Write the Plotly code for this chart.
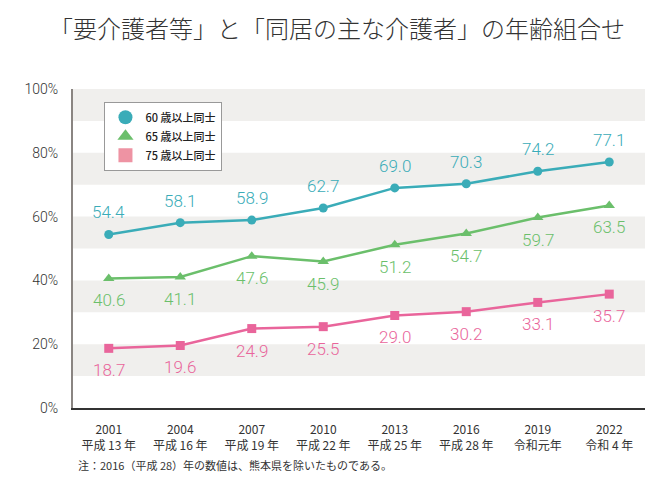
import plotly.graph_objects as go

years = ["2001", "2004", "2007", "2010", "2013", "2016", "2019", "2022"]
eras = ["平成 13 年", "平成 16 年", "平成 19 年", "平成 22 年", "平成 25 年", "平成 28 年", "令和元年", "令和 4 年"]
s60 = [54.4, 58.1, 58.9, 62.7, 69.0, 70.3, 74.2, 77.1]
s65 = [40.6, 41.1, 47.6, 45.9, 51.2, 54.7, 59.7, 63.5]
s75 = [18.7, 19.6, 24.9, 25.5, 29.0, 30.2, 33.1, 35.7]
names = ["60 歳以上同士", "65 歳以上同士", "75 歳以上同士"]
yticks = [0, 20, 40, 60, 80, 100]

TEAL = "#3aacb8"
GREEN = "#6bbf6b"
PINK = "#e9659b"
PINK_LEG = "#ee93a3"

JP = "Noto Sans CJK JP"
NUM = "Roboto"

x = list(range(len(years)))
ticktext = [f"{y}<br>{e}" for y, e in zip(years, eras)]

fig = go.Figure()
annotations = []

series = [
    (s60, TEAL, "circle", 9, 22),
    (s65, GREEN, "triangle-up", 10, -22),
    (s75, PINK, "square", 9, -22),
]
for vals, col, sym, sz, shift in series:
    fig.add_trace(go.Scatter(
        x=x, y=vals, mode="lines+markers",
        line=dict(color=col, width=2.5),
        marker=dict(color=col, symbol=sym, size=sz),
        showlegend=False, cliponaxis=False,
    ))
    for xi, v in zip(x, vals):
        annotations.append(dict(x=xi, y=v, xref="x", yref="y", text=f"{v:.1f}",
                                showarrow=False, yshift=shift, xanchor="center", yanchor="middle",
                                font=dict(color=col, size=17, family=NUM, weight=300)))

leg_cols = [TEAL, GREEN, PINK_LEG]
leg_syms = ["circle", "triangle-up", "square"]
for n, c, s in zip(names, leg_cols, leg_syms):
    fig.add_trace(go.Scatter(
        x=[None], y=[None], mode="markers", name=n,
        marker=dict(color=c, symbol=s, size=14),
    ))

# alternating bands
shapes = []
for lo in [10, 30, 50, 70, 90]:
    shapes.append(dict(type="rect", xref="paper", yref="y", x0=0, x1=1, y0=lo, y1=lo + 10,
                       fillcolor="#f0efed", line=dict(width=0), layer="below"))

annotations.append(dict(text="注：2016（平成 28）年の数値は、熊本県を除いたものである。",
                        xref="paper", yref="paper", x=0.005, y=-0.18, xanchor="left", yanchor="middle",
                        showarrow=False, font=dict(family=JP, size=11, color="#333")))

fig.update_layout(
    width=658, height=484,
    margin=dict(l=65, r=21, t=81, b=84),
    paper_bgcolor="white", plot_bgcolor="white",
    title=dict(text="「要介護者等」と「同居の主な介護者」の年齢組合せ",
               x=0.5, xanchor="center", y=0.955, yanchor="middle",
               font=dict(family=JP, size=24, color="#333", weight=300)),
    shapes=shapes,
    showlegend=True,
    legend=dict(x=0.055, y=0.96, xanchor="left", yanchor="top",
                bordercolor="#999", borderwidth=1, bgcolor="white",
                font=dict(family=JP, size=11, color="#222", weight=500),
                itemwidth=30, tracegroupgap=2),
    xaxis=dict(range=[-0.5, 7.5], tickmode="array", tickvals=x, ticktext=ticktext,
               showgrid=False, zeroline=False, showline=True, linecolor="#333", linewidth=1.5,
               ticks="", ticklabelstandoff=10, tickfont=dict(family=JP, size=12, color="#333")),
    yaxis=dict(range=[0, 100], tickmode="array", tickvals=yticks,
               ticktext=[f"{t}%" for t in yticks],
               showgrid=False, zeroline=False, showline=True, linecolor="#8a8582", linewidth=2,
               ticks="", ticklabelstandoff=10,
               tickfont=dict(family=NUM, size=14, color="#333", weight=300)),
    annotations=annotations,
)

fig.write_html("out.html")
